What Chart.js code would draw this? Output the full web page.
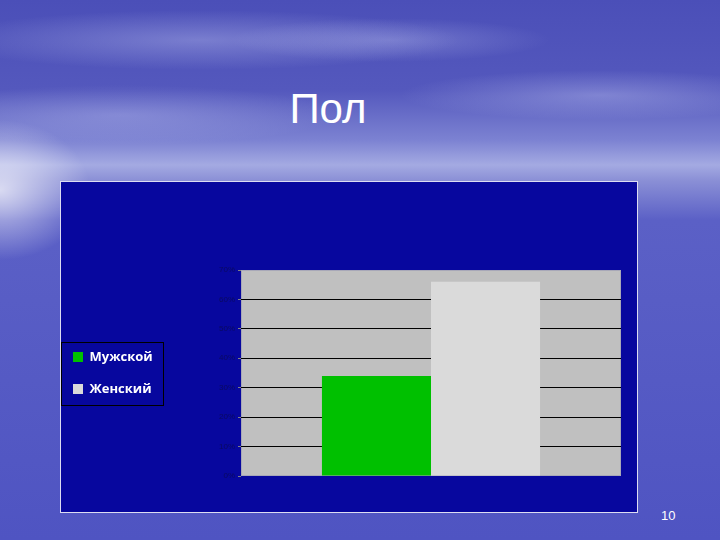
<!DOCTYPE html>
<html>
<head>
<meta charset="utf-8">
<script src="https://cdn.jsdelivr.net/npm/chart.js@4/dist/chart.umd.min.js"></script>
<style>
  html, body { margin: 0; padding: 0; }
  body {
    width: 720px; height: 540px; position: relative; overflow: hidden;
    font-family: 'Liberation Sans', Arial, sans-serif;
    background:
      radial-gradient(ellipse 90px 70px at 0px 190px, rgba(255,255,255,0.7), rgba(255,255,255,0) 100%),
      radial-gradient(ellipse 260px 30px at 200px 40px, rgba(220,225,255,0.3), rgba(220,225,255,0) 100%),
      radial-gradient(ellipse 200px 25px at 600px 95px, rgba(220,225,255,0.3), rgba(220,225,255,0) 100%),
      radial-gradient(ellipse 160px 22px at 390px 40px, rgba(220,225,255,0.25), rgba(220,225,255,0) 100%),
      radial-gradient(ellipse 220px 30px at 120px 115px, rgba(220,225,255,0.25), rgba(220,225,255,0) 100%),
      linear-gradient(to bottom, #4b4fb8 0px, #5458bd 90px, #7c82d2 140px, #a4aae2 165px, #8b90d6 180px, #5b60c6 220px, #4f54c2 540px);
  }
  #title {
    position: absolute; left: 0; width: 656px; top: 84px; text-align: center;
    color: #fff; font-size: 42px; line-height: 50px;
  }
  #frame {
    position: absolute; left: 60px; top: 181px; width: 576px; height: 330px;
    border: 1px solid #dcdcf2; background: #07079e;
  }
  #wrap { position: absolute; left: 54px; top: 182px; width: 583px; height: 330px; }
  #pg { position: absolute; left: 661px; top: 508px; color: #fff; font-size: 13px; }
</style>
</head>
<body>
<div id="title">Пол</div>
<div id="frame"></div>
<div id="wrap"><canvas id="chart"></canvas></div>
<div id="pg">10</div>
<script>
const CATEGORIES = [''];
const SERIES = ['Мужской', 'Женский'];
const VALUES = [[34], [66]];
const COLORS = ['#00c000', '#dadada'];
const Y_MAX = 70;
const Y_STEP = 10;

const plotBg = {
  id: 'plotBg',
  beforeDraw(chart) {
    const a = chart.chartArea, c = chart.ctx;
    c.save();
    c.fillStyle = '#c0c0c0';
    c.fillRect(a.left, a.top, a.right - a.left, a.bottom - a.top);
    c.strokeStyle = '#a8a8b8';
    c.lineWidth = 1;
    c.strokeRect(a.left + 0.5, a.top + 0.5, a.right - a.left - 1, a.bottom - a.top - 1);
    c.restore();
  },
  afterDraw(chart) {
    const hb = chart.legend.legendHitBoxes;
    if (!hb || !hb.length) return;
    const c = chart.ctx;
    const left = hb[0].left - 12;
    const top = hb[0].top - 9;
    const right = Math.max(...hb.map(h => h.left + h.width)) + 10;
    const bottom = hb[hb.length - 1].top + hb[hb.length - 1].height + 9;
    c.save();
    c.strokeStyle = '#000';
    c.lineWidth = 1;
    c.strokeRect(Math.round(left) + 0.5, Math.round(top) + 0.5, Math.round(right - left), Math.round(bottom - top));
    c.restore();
  }
};

new Chart(document.getElementById('chart'), {
  type: 'bar',
  data: {
    labels: CATEGORIES,
    datasets: SERIES.map((s, i) => ({
      label: s,
      data: VALUES[i],
      backgroundColor: COLORS[i],
      borderWidth: 0,
      categoryPercentage: 0.574,
      barPercentage: 1,
    })),
  },
  options: {
    responsive: true, maintainAspectRatio: false, animation: false,
    layout: { padding: { top: 88, bottom: 36, right: 16, left: 0 } },
    scales: {
      x: { display: false },
      y: {
        min: 0, max: Y_MAX,
        ticks: {
          stepSize: Y_STEP, color: '#0a0a60', padding: 3,
          font: { size: 8, family: "'Liberation Sans', Arial, sans-serif" },
          callback: v => v + '%',
        },
        grid: {
          color: ctx => (ctx.tick && (ctx.tick.value === 0 || ctx.tick.value === Y_MAX)) ? 'rgba(0,0,0,0)' : '#000',
          tickLength: 3, drawTicks: true, tickColor: '#808080',
        },
        border: { display: false },
        afterFit: scale => { scale.width = 187 - (scale.chart.legend ? scale.chart.legend.width : 0); },
      },
    },
    plugins: {
      legend: {
        position: 'left',
        labels: {
          color: '#ffffff', boxWidth: 10, boxHeight: 10, padding: 19,
          font: { size: 13, weight: 'bold', family: "'Open Sans', 'DejaVu Sans', sans-serif" },
        },
      },
      tooltip: { enabled: false },
    },
  },
  plugins: [plotBg],
});
</script>
</body>
</html>
